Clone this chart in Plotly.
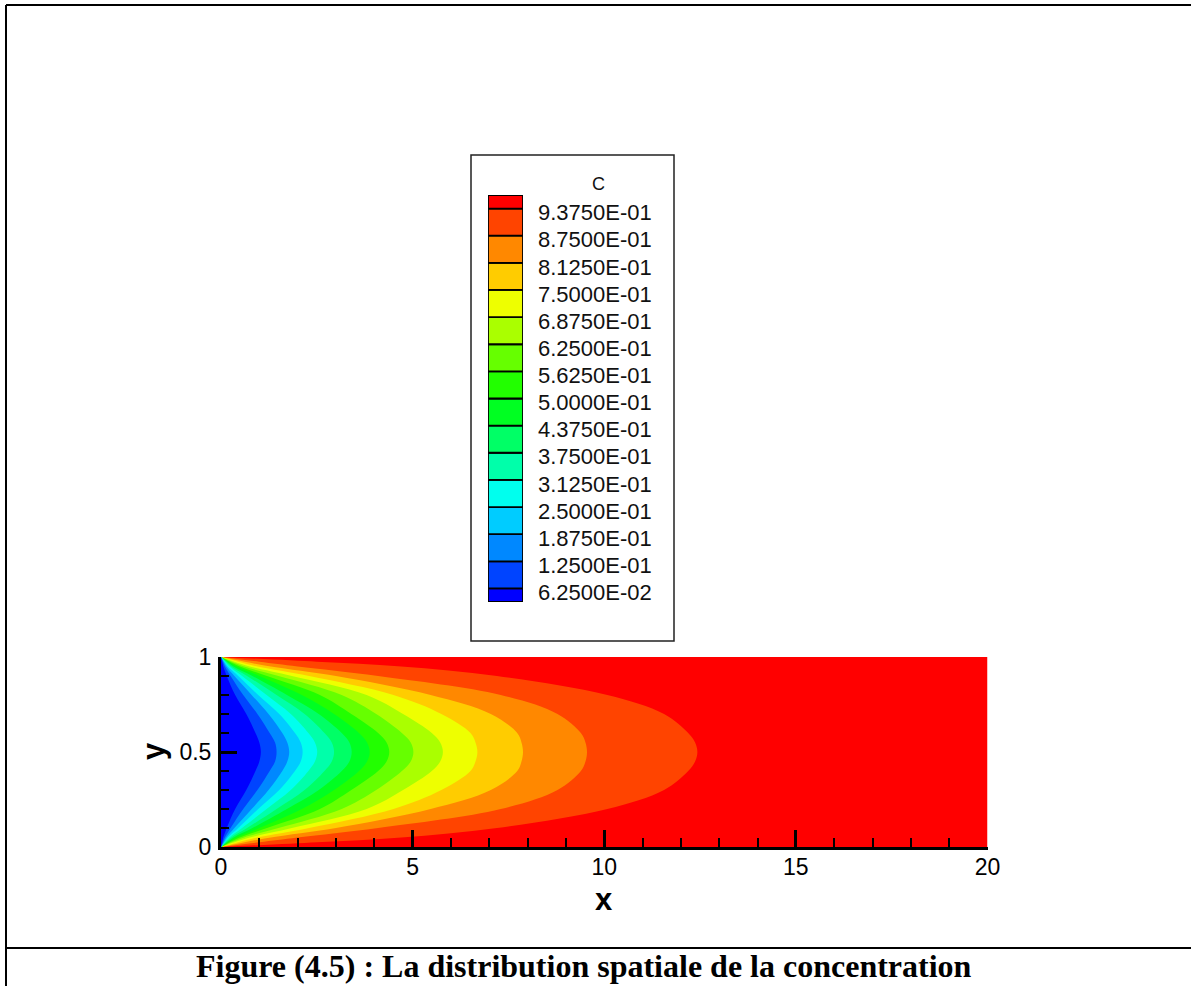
import plotly.graph_objects as go

# ---------------------------------------------------------------------------
# Concentration field c(x, y) in the channel 0 <= x <= 20, 0 <= y <= 1.
# Each iso-level is described by the streamwise position x of the level
# front at a set of heights across the lower half of the channel
# (the field is symmetric about the mid-plane y = 0.5).
# ---------------------------------------------------------------------------
levels = [0.0625, 0.125, 0.1875, 0.25, 0.3125, 0.375, 0.4375, 0.5,
          0.5625, 0.625, 0.6875, 0.75, 0.8125, 0.875, 0.9375]

y_half = [0.0, 0.025, 0.05, 0.1, 0.2, 0.3, 0.4, 0.45, 0.5]

front_0625 = [0.0, 0.03, 0.06, 0.15, 0.37, 0.66, 0.90, 1.00, 1.04]
front_1250 = [0.0, 0.05, 0.10, 0.25, 0.58, 0.95, 1.27, 1.41, 1.45]
front_1875 = [0.0, 0.07, 0.14, 0.35, 0.80, 1.24, 1.60, 1.73, 1.78]
front_2500 = [0.0, 0.09, 0.18, 0.45, 0.97, 1.52, 1.93, 2.08, 2.13]
front_3125 = [0.0, 0.11, 0.22, 0.55, 1.19, 1.82, 2.28, 2.45, 2.51]
front_3750 = [0.0, 0.13, 0.27, 0.68, 1.45, 2.18, 2.70, 2.89, 2.95]
front_4375 = [0.0, 0.16, 0.33, 0.82, 1.72, 2.55, 3.15, 3.35, 3.41]
front_5000 = [0.0, 0.19, 0.40, 1.00, 2.11, 2.95, 3.60, 3.81, 3.88]
front_5625 = [0.0, 0.23, 0.49, 1.20, 2.58, 3.40, 4.10, 4.32, 4.39]
front_6250 = [0.0, 0.28, 0.60, 1.50, 3.15, 4.05, 4.72, 4.95, 5.02]
front_6875 = [0.0, 0.35, 0.75, 1.85, 3.80, 4.75, 5.50, 5.72, 5.79]
front_7500 = [0.0, 0.45, 0.95, 2.30, 4.50, 5.75, 6.51, 6.64, 6.69]
front_8125 = [0.0, 0.62, 1.30, 3.00, 5.47, 7.04, 7.73, 7.84, 7.88]
front_8750 = [0.0, 1.00, 2.00, 4.10, 7.30, 8.78, 9.39, 9.51, 9.55]
front_9375 = [0.0, 2.50, 4.70, 7.20, 10.08, 11.56, 12.19, 12.37, 12.43]

fronts = [front_0625, front_1250, front_1875, front_2500, front_3125,
          front_3750, front_4375, front_5000, front_5625, front_6250,
          front_6875, front_7500, front_8125, front_8750, front_9375]

x_domain = [0, 20]
y_domain = [0, 1]

# flood colours, from below the first level up to above the last one
band_colors = ["#0000ff", "#0044ff", "#0088ff", "#00ccff", "#00ffee",
               "#00ffaa", "#00ff66", "#00ff22", "#22ff00", "#66ff00",
               "#aaff00", "#eeff00", "#ffcc00", "#ff8800", "#ff4400",
               "#ff0000"]

W, H = 1191, 986


def px_x(p):
    return p / W


def px_y(p):
    return 1 - p / H


fig = go.Figure()

# highest band fills the whole channel
fig.add_trace(go.Scatter(
    x=[x_domain[0], x_domain[1], x_domain[1], x_domain[0]],
    y=[y_domain[0], y_domain[0], y_domain[1], y_domain[1]],
    fill="toself", fillcolor=band_colors[-1], mode="lines",
    line=dict(width=0), hoverinfo="skip", showlegend=False,
    xaxis="x", yaxis="y"))

# region c < level, drawn from the largest to the smallest
for k in range(len(levels) - 1, -1, -1):
    xs = fronts[k]
    px_lo = list(xs)
    py_lo = list(y_half)
    px_up = list(reversed(xs[:-1]))
    py_up = [1 - v for v in reversed(y_half[:-1])]
    fig.add_trace(go.Scatter(
        x=px_lo + px_up, y=py_lo + py_up,
        fill="toself", fillcolor=band_colors[k], mode="lines",
        line=dict(width=0, shape="spline", smoothing=1.0),
        hoverinfo="skip", showlegend=False, xaxis="x", yaxis="y"))

# ---------------------------------------------------------------------------
# contour legend: 16 stacked boxes, half boxes at both ends
# ---------------------------------------------------------------------------
n_box = len(band_colors)
box_base = [0.0] + [i - 0.5 for i in range(1, n_box)]
box_height = [0.5] + [1.0] * (n_box - 2) + [0.5]
fig.add_trace(go.Bar(
    x=[0] * n_box, y=box_height, base=box_base, width=1.0,
    marker=dict(color=band_colors, line=dict(color="black", width=1.8)),
    hoverinfo="skip", showlegend=False, xaxis="x2", yaxis="y2"))

level_labels = [f"{v:.4E}" for v in levels]
level_pos = [i + 0.5 for i in range(len(levels))]

tick_font = dict(family="Liberation Sans, Arial, sans-serif", size=23,
                 color="black")

fig.update_layout(
    width=W, height=H, autosize=False,
    margin=dict(l=0, r=0, t=0, b=0, pad=0, autoexpand=False),
    paper_bgcolor="white", plot_bgcolor="white",
    barmode="overlay",
    xaxis=dict(
        domain=[px_x(221), px_x(987.5)], range=x_domain, anchor="y",
        automargin=False,
        showline=True, linecolor="black", linewidth=3, mirror=False,
        showgrid=False, zeroline=False,
        tick0=0, dtick=5, ticks="inside", ticklen=17, tickwidth=3,
        tickcolor="black",
        minor=dict(dtick=1, ticks="inside", ticklen=9, tickwidth=2,
                   tickcolor="black", showgrid=False),
        tickfont=tick_font, ticklabelstandoff=-3),
    yaxis=dict(
        domain=[px_y(847), px_y(657)], range=y_domain, anchor="x",
        automargin=False,
        showline=True, linecolor="black", linewidth=3, mirror=False,
        showgrid=False, zeroline=False,
        tick0=0, dtick=0.5, ticks="inside", ticklen=16, tickwidth=3,
        tickcolor="black",
        minor=dict(dtick=0.1, ticks="inside", ticklen=8, tickwidth=2,
                   tickcolor="black", showgrid=False),
        tickfont=tick_font, ticklabelstandoff=2),
    xaxis2=dict(
        domain=[px_x(488), px_x(523)], range=[-0.5, 0.5], anchor="y2",
        visible=False, fixedrange=True, automargin=False),
    yaxis2=dict(
        domain=[px_y(602), px_y(195)], range=[0, n_box - 1], anchor="x2",
        automargin=False,
        side="right", showgrid=False, zeroline=False, showline=False,
        ticks="", tickvals=level_pos, ticktext=level_labels,
        tickfont=dict(family="Liberation Sans, Arial, sans-serif", size=22,
                      color="#111111"),
        ticklabelstandoff=14, ticklabelshift=4),
    showlegend=False,
)

# frame around the legend
fig.add_shape(type="rect", xref="paper", yref="paper",
              x0=px_x(471), x1=px_x(674), y0=px_y(641), y1=px_y(155),
              line=dict(color="#222222", width=1.5))

# page frame and caption rule
line_style = dict(color="black", width=2)
fig.add_shape(type="line", xref="paper", yref="paper",
              x0=px_x(6), x1=1, y0=px_y(5), y1=px_y(5), line=line_style)
fig.add_shape(type="line", xref="paper", yref="paper",
              x0=px_x(6), x1=px_x(6), y0=0, y1=px_y(5), line=line_style)
fig.add_shape(type="line", xref="paper", yref="paper",
              x0=px_x(6), x1=1, y0=px_y(948), y1=px_y(948), line=line_style)

title_font = dict(family="Liberation Sans, Arial, sans-serif", size=31,
                  color="black")
fig.add_annotation(text="<b>x</b>", xref="paper", yref="paper",
                   x=px_x(604), y=px_y(899), showarrow=False,
                   xanchor="center", yanchor="middle", font=title_font)
fig.add_annotation(text="<b>y</b>", xref="paper", yref="paper",
                   x=px_x(153), y=px_y(751), showarrow=False, textangle=-90,
                   xanchor="center", yanchor="middle", font=title_font)
fig.add_annotation(text="C", xref="paper", yref="paper",
                   x=px_x(598), y=px_y(184), showarrow=False,
                   xanchor="center", yanchor="middle",
                   font=dict(family="Liberation Sans, Arial, sans-serif",
                             size=18, color="#111111"))
fig.add_annotation(
    text="<b>Figure (4.5) : La distribution spatiale de la concentration</b>",
    xref="paper", yref="paper", x=px_x(584), y=px_y(966), showarrow=False,
    xanchor="center", yanchor="middle",
    font=dict(family="Liberation Serif, Times New Roman, serif", size=32,
              color="black"))

fig.write_html("out.html", config=dict(displayModeBar=False))
